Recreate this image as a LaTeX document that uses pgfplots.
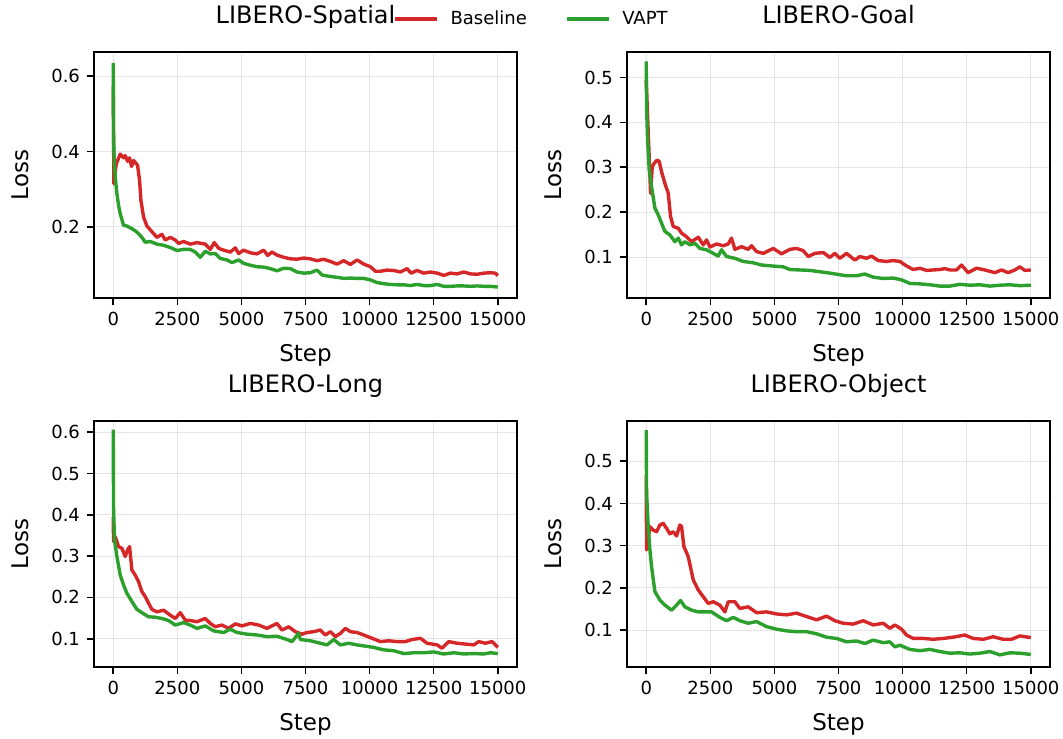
\documentclass[border=0pt]{standalone}
\usepackage{fontspec}
\setmainfont{DejaVu Sans}
\usepackage{pgfplots}
\pgfplotsset{compat=1.18}
\definecolor{tabred}{HTML}{D62728}
\definecolor{tabgreen}{HTML}{2CA02C}
\pgfplotsset{
  panel/.style={
    scale only axis, width=211.5pt, height=123pt,
    xmin=-750, xmax=15750,
    xtick={0,2500,5000,7500,10000,12500,15000},
    scaled x ticks=false, scaled y ticks=false,
    axis line style={line width=0.8pt},
    tick style={line width=0.8pt, black},
    major tick length=3.5pt,
    tick align=outside, tick pos=left,
    grid=major, grid style={line width=0.4pt, black!10},
    /pgf/number format/assume math mode=true,
    /pgf/number format/set thousands separator={},
    xticklabel style={/pgf/number format/fixed, /pgf/number format/precision=0},
    yticklabel style={/pgf/number format/fixed, /pgf/number format/precision=1, /pgf/number format/fixed zerofill},
    ticklabel style={font=\fontsize{9}{10}\selectfont},
    xlabel={Step}, ylabel={Loss},
    label style={font=\fontsize{11.5}{13}\selectfont},
    xlabel style={at={(axis description cs:0.5,-0.232)}, anchor=center},
    ylabel style={at={(axis description cs:-0.175,0.5)}, anchor=center, rotate=0},
    title style={at={(axis description cs:0.5,1.068)}, anchor=base, font=\fontsize{12}{14}\selectfont},
    every axis plot/.append style={line width=1.7pt, line join=round, no markers},
  }
}
\begin{document}
\begin{tikzpicture}
\useasboundingbox (0,0) rectangle (531.5pt,369pt);
% ---------------- LIBERO-Spatial
\begin{axis}[panel, at={(47pt,220pt)}, anchor=south west,
  ymin=0.011, ymax=0.664, ytick={0.2,0.4,0.6}, title={LIBERO-Spatial},
  legend columns=2,
  legend style={at={(axis description cs:1.034,1.134)}, anchor=center, draw=none, fill=none,
    font=\fontsize{9}{10}\selectfont,
    /tikz/every odd column/.append style={column sep=5pt},
    /tikz/every even column/.append style={column sep=18pt},
    nodes={inner sep=1pt}},
  legend image code/.code={\draw[#1, line width=1.7pt] (0pt,0pt) -- (21pt,0pt);},
]
\addplot[tabred] coordinates {
(0,0.574)(26,0.314)(117,0.367)(273,0.393)(403,0.383)(468,0.389)(559,0.374)(637,0.383)(716,0.360)(794,0.376)
(885,0.369)(950,0.363)(1028,0.323)(1080,0.270)(1184,0.226)(1314,0.202)(1509,0.187)(1704,0.172)(1899,0.180)(2030,0.165)
(2225,0.172)(2420,0.165)(2550,0.156)(2745,0.161)(3005,0.154)(3266,0.158)(3591,0.154)(3786,0.140)(3942,0.158)(4111,0.143)
(4306,0.138)(4567,0.133)(4762,0.144)(4892,0.129)(5087,0.138)(5347,0.131)(5607,0.128)(5868,0.138)(6024,0.124)(6193,0.133)
(6388,0.125)(6648,0.119)(6908,0.115)(7168,0.114)(7429,0.117)(7689,0.115)(7949,0.110)(8209,0.114)(8470,0.108)(8730,0.101)
(8990,0.110)(9250,0.100)(9510,0.112)(9771,0.101)(10031,0.094)(10226,0.082)(10421,0.082)(10681,0.085)(10941,0.084)(11202,0.080)
(11462,0.089)(11618,0.077)(11852,0.084)(12112,0.077)(12373,0.080)(12633,0.077)(12893,0.071)(13153,0.077)(13413,0.075)(13674,0.080)
(13934,0.075)(14194,0.074)(14454,0.077)(14714,0.078)(14909,0.077)(15000,0.070)
};
\addlegendentry{Baseline}
\addplot[tabgreen] coordinates {
(0,0.635)(13,0.429)(52,0.358)(91,0.323)(143,0.288)(208,0.257)(273,0.235)(403,0.204)(533,0.202)(729,0.195)
(924,0.186)(1119,0.172)(1249,0.159)(1444,0.161)(1704,0.154)(1964,0.151)(2225,0.145)(2485,0.137)(2745,0.140)(3005,0.140)
(3200,0.133)(3396,0.119)(3591,0.135)(3786,0.128)(3981,0.129)(4176,0.116)(4436,0.112)(4632,0.105)(4892,0.112)(5087,0.103)
(5347,0.098)(5607,0.094)(5868,0.093)(6128,0.089)(6388,0.083)(6648,0.090)(6908,0.089)(7168,0.080)(7429,0.077)(7689,0.078)
(7949,0.085)(8144,0.072)(8470,0.068)(8730,0.066)(8990,0.063)(9250,0.064)(9510,0.063)(9771,0.063)(10031,0.059)(10291,0.052)
(10551,0.049)(10811,0.047)(11072,0.046)(11332,0.046)(11592,0.044)(11852,0.047)(12112,0.044)(12373,0.044)(12633,0.047)(12893,0.042)
(13153,0.042)(13413,0.043)(13674,0.043)(13934,0.042)(14194,0.043)(14454,0.042)(14714,0.042)(15000,0.040)
};
\addlegendentry{VAPT}
\end{axis}
% ---------------- LIBERO-Goal
\begin{axis}[panel, at={(313.5pt,220pt)}, anchor=south west,
  ymin=0.0085, ymax=0.557, ytick={0.1,0.2,0.3,0.4,0.5}, title={LIBERO-Goal}]
\addplot[tabred] coordinates {
(0,0.495)(169,0.242)(234,0.301)(312,0.309)(429,0.316)(507,0.313)(598,0.290)(728,0.264)(858,0.242)(949,0.190)
(1053,0.168)(1248,0.164)(1378,0.153)(1573,0.145)(1768,0.134)(2028,0.144)(2223,0.127)(2353,0.138)(2483,0.122)(2743,0.129)
(3003,0.125)(3198,0.129)(3328,0.142)(3458,0.117)(3718,0.123)(3978,0.117)(4108,0.125)(4303,0.112)(4563,0.108)(4953,0.119)
(5278,0.107)(5603,0.117)(5863,0.119)(6123,0.114)(6318,0.101)(6578,0.108)(6903,0.110)(7163,0.099)(7358,0.108)(7553,0.097)
(7813,0.108)(8138,0.093)(8333,0.101)(8593,0.097)(8788,0.102)(9048,0.092)(9373,0.090)(9633,0.092)(9893,0.090)(10153,0.080)
(10413,0.072)(10673,0.075)(10933,0.070)(11193,0.071)(11453,0.072)(11648,0.074)(11843,0.071)(12103,0.071)(12298,0.082)(12558,0.065)
(12883,0.075)(13208,0.071)(13598,0.065)(13858,0.071)(14118,0.065)(14378,0.071)(14573,0.078)(14768,0.070)(15000,0.071)
};
\addplot[tabgreen] coordinates {
(0,0.536)(13,0.435)(52,0.361)(117,0.294)(208,0.257)(338,0.209)(468,0.194)(598,0.175)(728,0.157)(923,0.149)
(1118,0.134)(1248,0.142)(1378,0.127)(1508,0.134)(1703,0.127)(1898,0.130)(2093,0.119)(2353,0.116)(2613,0.108)(2808,0.102)
(2938,0.116)(3133,0.101)(3458,0.097)(3783,0.090)(4173,0.087)(4498,0.082)(4888,0.080)(5343,0.078)(5603,0.072)(5993,0.071)
(6383,0.070)(6773,0.067)(7163,0.064)(7488,0.061)(7813,0.058)(8203,0.058)(8528,0.062)(8853,0.055)(9243,0.052)(9633,0.053)
(9958,0.049)(10283,0.041)(10673,0.040)(11063,0.038)(11453,0.035)(11843,0.035)(12233,0.039)(12623,0.037)(13013,0.038)(13403,0.035)
(13793,0.037)(14183,0.038)(14573,0.036)(15000,0.037)
};
\end{axis}
% ---------------- LIBERO-Long
\begin{axis}[panel, at={(47pt,35.5pt)}, anchor=south west,
  ymin=0.0315, ymax=0.627, ytick={0.1,0.2,0.3,0.4,0.5,0.6}, title={LIBERO-Long}]
\addplot[tabred] coordinates {
(0,0.396)(13,0.335)(78,0.347)(208,0.323)(338,0.319)(468,0.299)(559,0.315)(637,0.323)(729,0.266)(859,0.254)
(989,0.238)(1119,0.214)(1249,0.202)(1379,0.186)(1509,0.171)(1704,0.165)(1964,0.169)(2225,0.157)(2420,0.149)(2615,0.163)
(2810,0.145)(3005,0.144)(3266,0.141)(3591,0.149)(3786,0.137)(3981,0.129)(4241,0.133)(4502,0.125)(4762,0.136)(5022,0.131)
(5347,0.137)(5672,0.133)(5998,0.125)(6388,0.137)(6583,0.121)(6843,0.129)(7103,0.117)(7364,0.111)(7559,0.115)(7819,0.117)
(8079,0.121)(8274,0.109)(8470,0.117)(8665,0.105)(8860,0.113)(9055,0.125)(9250,0.117)(9510,0.115)(9771,0.109)(10096,0.101)
(10421,0.093)(10746,0.095)(11072,0.093)(11397,0.093)(11657,0.098)(11982,0.101)(12242,0.089)(12633,0.085)(12828,0.077)(13088,0.093)
(13413,0.089)(13738,0.087)(14064,0.085)(14259,0.093)(14519,0.089)(14779,0.093)(15000,0.079)
};
\addplot[tabgreen] coordinates {
(0,0.606)(13,0.412)(52,0.339)(143,0.299)(273,0.254)(403,0.230)(533,0.210)(729,0.190)(924,0.171)(1119,0.163)
(1379,0.153)(1639,0.152)(1899,0.149)(2160,0.144)(2420,0.133)(2745,0.139)(3005,0.133)(3266,0.125)(3591,0.131)(3916,0.119)
(4306,0.115)(4567,0.123)(4827,0.115)(5217,0.111)(5607,0.109)(5998,0.105)(6388,0.106)(6778,0.098)(6973,0.093)(7233,0.113)
(7299,0.098)(7689,0.095)(8079,0.089)(8339,0.085)(8600,0.098)(8860,0.085)(9185,0.089)(9510,0.085)(9836,0.082)(10161,0.079)
(10551,0.073)(10941,0.071)(11332,0.064)(11722,0.066)(12112,0.066)(12502,0.068)(12893,0.063)(13283,0.066)(13674,0.063)(14064,0.064)
(14454,0.063)(14714,0.066)(15000,0.064)
};
\end{axis}
% ---------------- LIBERO-Object
\begin{axis}[panel, at={(313.5pt,35.5pt)}, anchor=south west,
  ymin=0.0123, ymax=0.5955, ytick={0.1,0.2,0.3,0.4,0.5}, title={LIBERO-Object}]
\addplot[tabred] coordinates {
(0,0.468)(13,0.290)(143,0.345)(273,0.337)(403,0.333)(533,0.349)(663,0.353)(793,0.341)(923,0.328)(1053,0.333)
(1183,0.323)(1313,0.349)(1378,0.345)(1469,0.298)(1638,0.274)(1833,0.219)(2028,0.195)(2223,0.179)(2418,0.163)(2613,0.167)
(2873,0.159)(3068,0.143)(3198,0.167)(3458,0.167)(3653,0.151)(3978,0.155)(4303,0.141)(4693,0.143)(5083,0.138)(5473,0.136)
(5863,0.140)(6253,0.132)(6643,0.124)(7033,0.133)(7358,0.122)(7683,0.116)(8073,0.114)(8463,0.122)(8853,0.112)(9243,0.116)
(9503,0.104)(9698,0.112)(9958,0.102)(10153,0.088)(10413,0.080)(10803,0.080)(11193,0.078)(11583,0.080)(11973,0.083)(12428,0.088)
(12753,0.080)(13143,0.078)(13533,0.084)(13923,0.078)(14248,0.078)(14573,0.086)(15000,0.082)
};
\addplot[tabgreen] coordinates {
(0,0.574)(13,0.424)(78,0.345)(143,0.290)(208,0.250)(338,0.191)(533,0.171)(728,0.159)(988,0.147)(1183,0.159)
(1339,0.170)(1508,0.155)(1768,0.147)(2028,0.143)(2288,0.143)(2548,0.143)(2873,0.130)(3133,0.122)(3393,0.130)(3653,0.122)
(3978,0.116)(4303,0.120)(4693,0.108)(5083,0.102)(5473,0.098)(5863,0.096)(6253,0.096)(6643,0.091)(7033,0.083)(7423,0.080)
(7813,0.072)(8203,0.074)(8528,0.068)(8853,0.076)(9243,0.070)(9503,0.072)(9698,0.060)(9893,0.064)(10283,0.054)(10673,0.051)
(11063,0.054)(11453,0.049)(11843,0.045)(12233,0.046)(12623,0.043)(13013,0.045)(13403,0.049)(13793,0.041)(14183,0.046)(14573,0.045)
(15000,0.042)
};
\end{axis}
\end{tikzpicture}
\end{document}
